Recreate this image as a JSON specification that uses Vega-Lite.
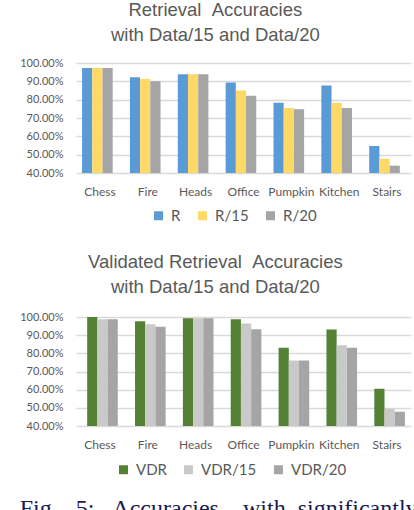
{
  "$schema": "https://vega.github.io/schema/vega-lite/v6.json",
  "padding": {"left": 19, "top": 0, "right": 0, "bottom": 0},
  "background": "white",
  "title": {"text": "Fig.\u00a0\u00a0\u00a05:\u00a0\u00a0\u00a0Accuracies\u00a0\u00a0\u00a0\u00a0with\u00a0\u00a0significantly", "orient": "bottom", "anchor": "start", "frame": "bounds", "font": "Liberation Serif", "fontSize": 24, "fontWeight": "normal", "color": "#1a1a50", "baseline": "top", "offset": 19},
  "config": {
    "view": {"stroke": null},
    "font": "Lato",
    "axis": {"ticks": false, "domain": false, "titleColor": "#595959", "labelColor": "#595959", "labelFont": "Lato"},
    "axisY": {"gridColor": "#d9d9d9", "gridWidth": 1.3, "labelFontSize": 11, "labelPadding": 13},
    "axisX": {"grid": false, "labelFontSize": 12, "labelPadding": 13, "labelAngle": 0},
    "title": {"font": "Liberation Sans", "fontSize": 18.5, "fontWeight": "normal", "color": "#595959", "lineHeight": 25, "frame": "bounds", "anchor": "middle", "offset": 13},
    "legend": {"symbolType": "square", "symbolSize": 81, "labelFontSize": 15, "labelColor": "#595959", "labelFont": "Lato", "columnPadding": 14, "labelOffset": 5, "padding": 0, "symbolStrokeWidth": 0}
  },
  "datasets": {
    "top": [
      {"scene": "Chess", "series": "R", "acc": 0.973}, {"scene": "Chess", "series": "R/15", "acc": 0.973}, {"scene": "Chess", "series": "R/20", "acc": 0.973},
      {"scene": "Fire", "series": "R", "acc": 0.922}, {"scene": "Fire", "series": "R/15", "acc": 0.913}, {"scene": "Fire", "series": "R/20", "acc": 0.90},
      {"scene": "Heads", "series": "R", "acc": 0.939}, {"scene": "Heads", "series": "R/15", "acc": 0.939}, {"scene": "Heads", "series": "R/20", "acc": 0.939},
      {"scene": "Office", "series": "R", "acc": 0.894}, {"scene": "Office", "series": "R/15", "acc": 0.85}, {"scene": "Office", "series": "R/20", "acc": 0.822},
      {"scene": "Pumpkin", "series": "R", "acc": 0.783}, {"scene": "Pumpkin", "series": "R/15", "acc": 0.755}, {"scene": "Pumpkin", "series": "R/20", "acc": 0.748},
      {"scene": "Kitchen", "series": "R", "acc": 0.877}, {"scene": "Kitchen", "series": "R/15", "acc": 0.783}, {"scene": "Kitchen", "series": "R/20", "acc": 0.755},
      {"scene": "Stairs", "series": "R", "acc": 0.547}, {"scene": "Stairs", "series": "R/15", "acc": 0.478}, {"scene": "Stairs", "series": "R/20", "acc": 0.44}
    ],
    "bottom": [
      {"scene": "Chess", "series": "VDR", "acc": 1.0}, {"scene": "Chess", "series": "VDR/15", "acc": 0.987}, {"scene": "Chess", "series": "VDR/20", "acc": 0.987},
      {"scene": "Fire", "series": "VDR", "acc": 0.977}, {"scene": "Fire", "series": "VDR/15", "acc": 0.96}, {"scene": "Fire", "series": "VDR/20", "acc": 0.947},
      {"scene": "Heads", "series": "VDR", "acc": 0.993}, {"scene": "Heads", "series": "VDR/15", "acc": 0.993}, {"scene": "Heads", "series": "VDR/20", "acc": 0.993},
      {"scene": "Office", "series": "VDR", "acc": 0.987}, {"scene": "Office", "series": "VDR/15", "acc": 0.964}, {"scene": "Office", "series": "VDR/20", "acc": 0.933},
      {"scene": "Pumpkin", "series": "VDR", "acc": 0.831}, {"scene": "Pumpkin", "series": "VDR/15", "acc": 0.76}, {"scene": "Pumpkin", "series": "VDR/20", "acc": 0.76},
      {"scene": "Kitchen", "series": "VDR", "acc": 0.931}, {"scene": "Kitchen", "series": "VDR/15", "acc": 0.844}, {"scene": "Kitchen", "series": "VDR/20", "acc": 0.831},
      {"scene": "Stairs", "series": "VDR", "acc": 0.605}, {"scene": "Stairs", "series": "VDR/15", "acc": 0.495}, {"scene": "Stairs", "series": "VDR/20", "acc": 0.478}
    ]
  },
  "bounds": "flush",
  "spacing": 144,
  "vconcat": [
    {
      "width": 335,
      "height": 110,
      "title": {"text": ["Retrieval\u00a0\u00a0Accuracies", "with Data/15 and Data/20"]},
      "data": {"name": "top"},
      "mark": {"type": "bar", "clip": true, "width": 10.2},
      "encoding": {
        "x": {"field": "scene", "type": "nominal", "sort": null, "scale": {"paddingInner": 0.36, "paddingOuter": 0.18}, "axis": {"title": null}},
        "xOffset": {"field": "series", "type": "nominal", "sort": ["R", "R/15", "R/20"], "scale": {"paddingInner": 0, "paddingOuter": 0}},
        "y": {"field": "acc", "type": "quantitative", "scale": {"domain": [0.4, 1.0], "zero": false, "nice": false}, "axis": {"title": null, "format": ".2%", "values": [0.4, 0.5, 0.6, 0.7, 0.8, 0.9, 1.0]}},
        "color": {"field": "series", "type": "nominal", "sort": ["R", "R/15", "R/20"], "scale": {"domain": ["R", "R/15", "R/20"], "range": ["#5b9bd5", "#ffd966", "#a5a5a5"]}, "legend": {"title": null, "orient": "none", "direction": "horizontal", "legendX": 75, "legendY": 145}}
      }
    },
    {
      "width": 335,
      "height": 109,
      "title": {"text": ["Validated Retrieval\u00a0\u00a0Accuracies", "with Data/15 and Data/20"], "offset": 15},
      "data": {"name": "bottom"},
      "mark": {"type": "bar", "clip": true, "width": 10.2},
      "encoding": {
        "x": {"field": "scene", "type": "nominal", "sort": null, "scale": {"paddingInner": 0.36, "paddingOuter": 0.18}, "axis": {"title": null}},
        "xOffset": {"field": "series", "type": "nominal", "sort": ["VDR", "VDR/15", "VDR/20"], "scale": {"paddingInner": 0, "paddingOuter": 0}},
        "y": {"field": "acc", "type": "quantitative", "scale": {"domain": [0.4, 1.0], "zero": false, "nice": false}, "axis": {"title": null, "format": ".2%", "values": [0.4, 0.5, 0.6, 0.7, 0.8, 0.9, 1.0]}},
        "color": {"field": "series", "type": "nominal", "sort": ["VDR", "VDR/15", "VDR/20"], "scale": {"domain": ["VDR", "VDR/15", "VDR/20"], "range": ["#548235", "#c9c9c9", "#a5a5a5"]}, "legend": {"title": null, "orient": "none", "direction": "horizontal", "legendX": 40, "legendY": 145}}
      }
    }
  ],
  "resolve": {"scale": {"color": "independent"}, "legend": {"color": "independent"}}
}
